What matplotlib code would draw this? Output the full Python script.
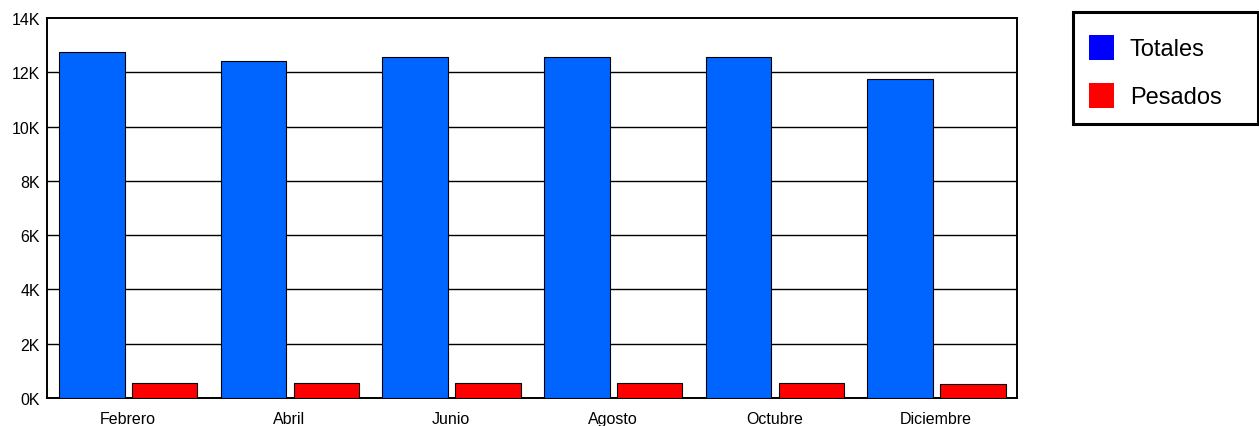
import matplotlib.pyplot as plt
import numpy as np
from matplotlib.patches import Rectangle

plt.rcParams['font.family'] = ['Liberation Sans', 'DejaVu Sans']

meses = ["Febrero", "Abril", "Junio", "Agosto", "Octubre", "Diciembre"]
totales = [12740, 12420, 12560, 12560, 12560, 11750]
pesados = [560, 570, 570, 570, 570, 520]
y_ticks = [0, 2000, 4000, 6000, 8000, 10000, 12000, 14000]

W, H = 1259, 427
fig = plt.figure(figsize=(W / 100, H / 100), dpi=100)
ax = fig.add_axes([47 / W, 1 - 399 / H, 970 / W, 380 / H])

x = np.arange(len(meses))
bw = 0.405
ax.bar(x - 0.2225, totales, bw, color="#0064ff", edgecolor="black", lw=0.8, zorder=3)
ax.bar(x + 0.2275, pesados, bw, color="#ff0000", edgecolor="black", lw=0.8, zorder=3)

ax.set_xlim(-0.5, len(meses) - 0.5)
ax.set_ylim(0, 14000)
ax.set_yticks(y_ticks)
ax.set_yticklabels([f"{v // 1000}K" for v in y_ticks], fontsize=11.5)
ax.set_xticks(x)
ax.set_xticklabels(meses, fontsize=11.5)
ax.tick_params(axis="y", length=0, pad=5)
ax.tick_params(axis="x", length=0, pad=9.5)
for v in y_ticks[1:-1]:
    ax.axhline(v, color="black", lw=1.0, zorder=1)
for s in ax.spines.values():
    s.set_linewidth(1.4)
    s.set_color("black")


def px(x0, y0, w, h):
    # pixel box (top-left origin) -> figure fraction
    return (x0 / W, 1 - (y0 + h) / H), w / W, h / H


# legend box
xy, w, h = px(1073, 13, 185, 112)
fig.add_artist(Rectangle(xy, w, h, transform=fig.transFigure, fill=False,
                         edgecolor="black", lw=2.2))
for (label, col, y0) in [("Totales", "#0000ff", 36), ("Pesados", "#ff0000", 84)]:
    xy, w, h = px(1089, y0, 25, 25)
    fig.add_artist(Rectangle(xy, w, h, transform=fig.transFigure, color=col, lw=0))
    fig.text(1130 / W, 1 - (y0 + 13.5) / H, label, fontsize=17, va="center", ha="left")

fig.savefig("out.png", dpi=100)
